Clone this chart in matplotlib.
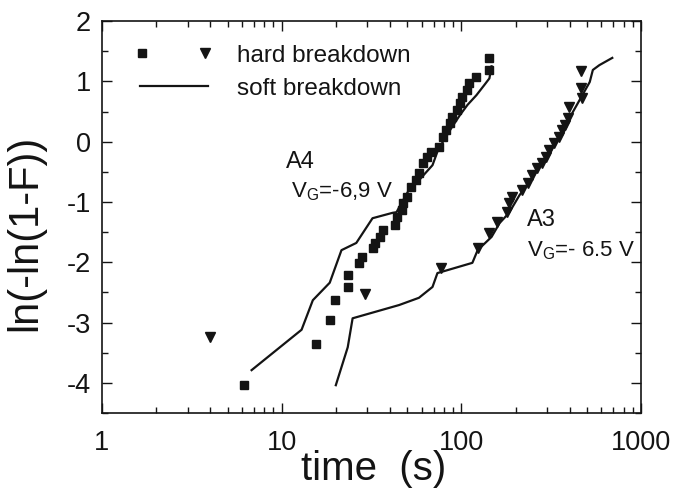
import matplotlib
matplotlib.use('Agg')
import matplotlib.pyplot as plt
from matplotlib.ticker import MultipleLocator, NullFormatter
from matplotlib.legend_handler import HandlerTuple
from matplotlib.lines import Line2D

plt.rcParams['font.family'] = ['Liberation Sans', 'DejaVu Sans']
plt.rcParams['axes.unicode_minus'] = False

# A4 (VG = -6.9 V) hard breakdown, squares
a4_hard_t = [6.2, 15.6, 18.5, 19.7, 23.3, 23.3, 27.0, 27.8, 32.0, 33.0, 35.0, 36.5,
             42.5, 44.0, 46.5, 47.0, 49.5, 52.5, 56.0, 58.0, 61.0, 64.0, 68.0, 75.0,
             79.0, 82.0, 86.0, 89.0, 94.0, 98.0, 101.0, 107.0, 110.0, 121.0, 143.0, 143.0]
a4_hard_y = [-4.04, -3.36, -2.96, -2.63, -2.41, -2.21, -2.01, -1.91, -1.77, -1.68, -1.58, -1.47,
             -1.38, -1.25, -1.13, -1.02, -0.92, -0.75, -0.64, -0.52, -0.36, -0.26, -0.17, -0.09,
             0.08, 0.19, 0.31, 0.41, 0.52, 0.64, 0.74, 0.86, 0.97, 1.07, 1.19, 1.39]

# A4 soft breakdown, line
a4_soft_t = [6.8, 12.9, 14.9, 18.5, 21.5, 26.0, 32.0, 41.4, 43.5, 51.0, 58.0, 69.0,
             74.0, 80.0, 88.0, 98.0, 108.0, 121.0, 134.0, 143.0, 147.0]
a4_soft_y = [-3.79, -3.12, -2.63, -2.34, -1.80, -1.68, -1.27, -1.18, -1.17, -0.80, -0.64, -0.39,
             -0.14, 0.03, 0.23, 0.44, 0.61, 0.77, 0.94, 1.05, 1.25]

# A3 (VG = -6.5 V) hard breakdown, triangles
a3_hard_t = [4.0, 28.9, 77.0, 123.0, 143.0, 158.0, 180.0, 184.0, 190.0, 218.0, 233.0, 248.0,
             264.0, 282.0, 297.0, 308.0, 329.0, 350.0, 364.0, 375.0, 390.0, 398.0, 470.0, 464.0, 464.0]
a3_hard_y = [-3.24, -2.53, -2.10, -1.76, -1.52, -1.33, -1.17, -1.02, -0.92, -0.80, -0.69, -0.55,
             -0.44, -0.35, -0.26, -0.14, -0.02, 0.08, 0.19, 0.28, 0.39, 0.57, 0.72, 0.89, 1.17]

# A3 soft breakdown, line
a3_soft_t = [20.0, 23.3, 24.8, 45.0, 58.0, 69.0, 73.5, 115.0, 123.0, 147.0, 163.0, 184.0,
             210.0, 254.0, 308.0, 359.0, 407.0, 470.0, 517.0, 538.0, 585.0, 690.0]
a3_soft_y = [-4.04, -3.41, -2.93, -2.71, -2.59, -2.41, -2.18, -2.01, -1.80, -1.58, -1.35, -1.18,
             -0.89, -0.55, -0.19, 0.14, 0.44, 0.77, 0.99, 1.19, 1.27, 1.39]

xticks = [1, 10, 100, 1000]
xtick_labels = ['1', '10', '100', '1000']
yticks = [-4, -3, -2, -1, 0, 1, 2]

ink = '#141414'

fig = plt.figure(figsize=(6.75, 4.91), dpi=100)
ax = fig.add_axes([0.151, 0.159, 0.799, 0.798])

# soft breakdown lines, then hard breakdown markers
ax.plot(a4_soft_t, a4_soft_y, color=ink, lw=1.6)
ax.plot(a3_soft_t, a3_soft_y, color=ink, lw=1.6)
ax.plot(a4_hard_t, a4_hard_y, 's', color=ink, ms=5.5, ls='none')
ax.plot(a3_hard_t, a3_hard_y, 'v', color=ink, ms=6.5, ls='none')

ax.set_xscale('log')
ax.set_xlim(1, 1000)
ax.set_ylim(-4.5, 2)
ax.set_xticks(xticks, labels=xtick_labels)
ax.xaxis.set_minor_formatter(NullFormatter())
ax.set_yticks(yticks)
ax.yaxis.set_minor_locator(MultipleLocator(0.5))

ax.tick_params(which='both', direction='in', top=True, right=True, colors=ink,
               labelsize=19.5, width=1.0)
ax.tick_params(which='major', length=7, pad=8)
ax.tick_params(which='minor', length=4)
ax.tick_params(axis='x', which='major', pad=12)
for s in ax.spines.values():
    s.set_linewidth(1.2)
    s.set_color(ink)

ax.set_xlabel('time  (s)', fontsize=29, color=ink)
ax.xaxis.set_label_coords(0.503, -0.095)
ax.set_ylabel('ln(-ln(1-F))', fontsize=30, color=ink)
ax.yaxis.set_label_coords(-0.105, 0.46)

# sample annotations
ax.text(0.342, 0.64, 'A4', transform=ax.transAxes, fontsize=17, color=ink, va='center')
ax.text(0.35, 0.565, 'V$_\\mathregular{G}$=-6,9 V', transform=ax.transAxes, fontsize=16,
        color=ink, va='center')
ax.text(0.789, 0.493, 'A3', transform=ax.transAxes, fontsize=17, color=ink, va='center')
ax.text(0.789, 0.415, 'V$_\\mathregular{G}$=- 6.5 V', transform=ax.transAxes, fontsize=16,
        color=ink, va='center')

# legend: square + triangle share one entry
h_sq = Line2D([], [], marker='s', color=ink, ms=5.5, ls='none')
h_tri = Line2D([], [], marker='v', color=ink, ms=6.5, ls='none')
h_line = Line2D([], [], color=ink, lw=1.6)
ax.legend([(h_sq, h_tri), h_line], ['hard breakdown', 'soft breakdown'],
          handler_map={tuple: HandlerTuple(ndivide=None, pad=2.4)},
          loc='upper left', bbox_to_anchor=(0.07, 0.94), borderpad=0, borderaxespad=0,
          frameon=False, fontsize=17.5, handlelength=2.8, handletextpad=1.2,
          labelspacing=0.45, labelcolor=ink)

fig.savefig('out.png', dpi=100, facecolor='white')
